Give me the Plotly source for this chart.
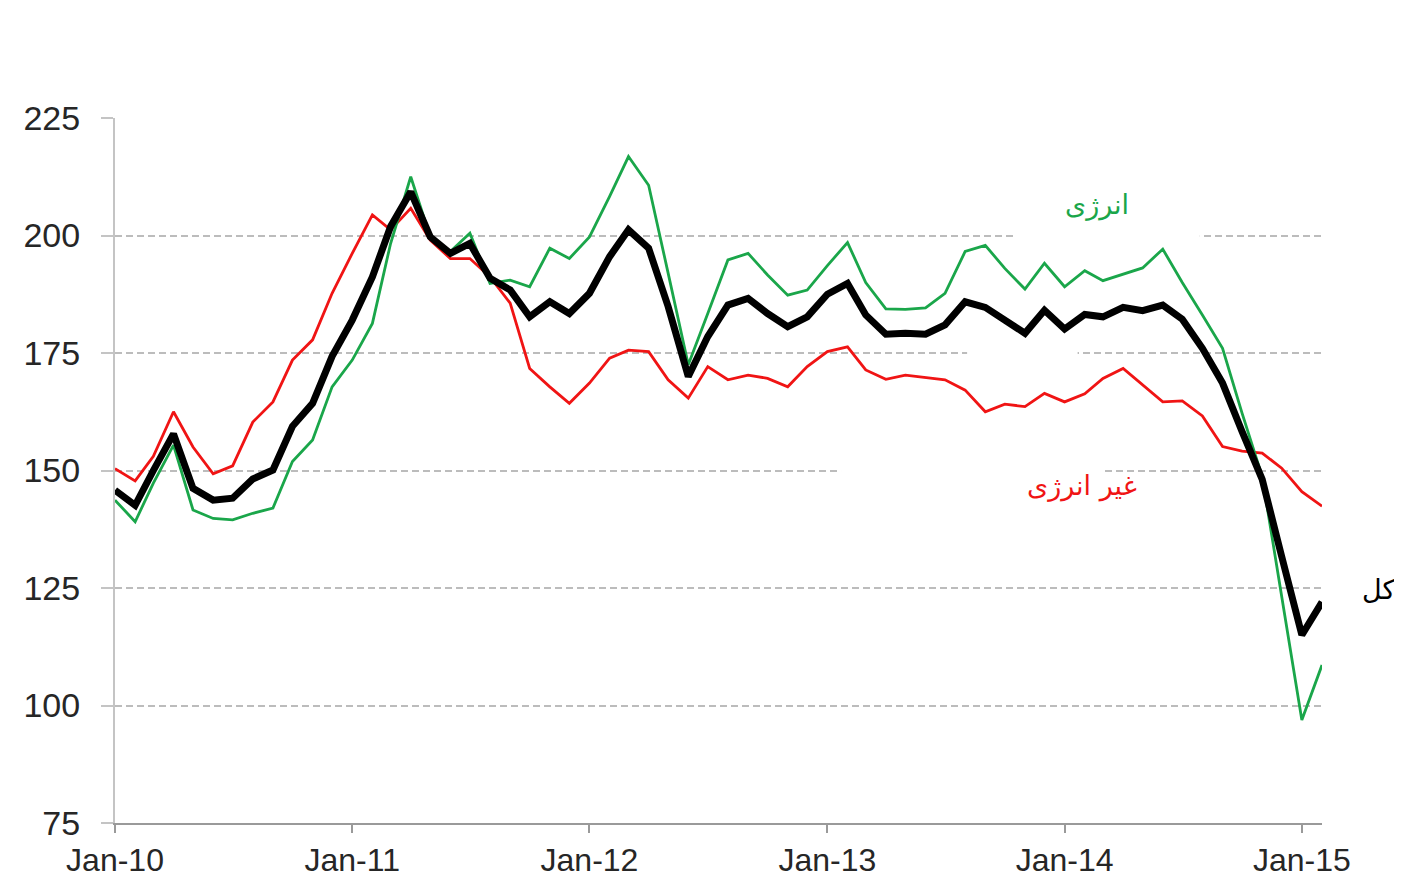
"""
Energy vs non-energy commodity index, Jan-10 to Feb-15.
"""

import pandas as pd
import plotly.graph_objects as go

months = pd.date_range("2010-01-01", periods=62, freq="MS")

# ── series (monthly) ──
total = [
    145.8, 142.6, 150.0, 157.8, 146.2, 143.7, 144.1, 148.2, 150.1, 159.4, 164.3, 174.3,
    182.0, 191.2, 201.9, 209.3, 199.7, 196.2, 198.3, 190.9, 188.4, 182.7, 185.9, 183.4,
    187.7, 195.5, 201.2, 197.3, 184.9, 170.0, 178.5, 185.2, 186.6, 183.4, 180.6, 182.7,
    187.5, 189.8, 183.1, 179.0, 179.2, 179.0, 181.0, 185.9, 184.7, 182.0, 179.2, 184.1,
    180.1, 183.2, 182.7, 184.7, 184.0, 185.2, 182.2, 176.0, 168.6, 158.3, 148.1, 131.7,
    115.0, 122.0,
]
energy = [
    143.7, 139.1, 147.3, 155.4, 141.6, 139.8, 139.5, 140.9, 142.0, 151.9, 156.5, 167.8,
    173.5, 181.3, 198.3, 212.5, 199.7, 196.6, 200.5, 189.8, 190.5, 189.1, 197.3, 195.1,
    199.7, 208.3, 216.8, 210.7, 192.0, 172.5, 183.4, 194.8, 196.2, 191.6, 187.3, 188.4,
    193.6, 198.5, 190.0, 184.4, 184.3, 184.6, 187.7, 196.6, 197.9, 193.0, 188.6, 194.1,
    189.1, 192.5, 190.4, 191.7, 193.1, 197.1, 190.0, 183.1, 176.0, 162.2, 148.7, 123.2,
    96.9, 108.6,
]
non_energy = [
    150.4, 147.8, 153.0, 162.5, 155.0, 149.3, 151.0, 160.3, 164.6, 173.5, 177.8, 187.7,
    196.2, 204.4, 201.2, 205.8, 199.0, 195.1, 195.1, 191.2, 185.6, 171.7, 167.8, 164.3,
    168.6, 173.9, 175.6, 175.3, 169.3, 165.4, 172.1, 169.3, 170.3, 169.6, 167.8, 172.1,
    175.3, 176.3, 171.4, 169.4, 170.3, 169.8, 169.3, 167.1, 162.5, 164.1, 163.6, 166.4,
    164.6, 166.3, 169.6, 171.7, 168.2, 164.6, 164.8, 161.6, 155.1, 154.1, 153.7, 150.5,
    145.5, 142.4,
]

y_ticks = [75, 100, 125, 150, 175, 200, 225]

GREEN = "#1aa64a"
RED = "#f01414"
BLACK = "#000000"

fig = go.Figure()
fig.add_trace(go.Scatter(x=months, y=non_energy, mode="lines",
                         line=dict(color=RED, width=2.8), name="غیر انرژی"))
fig.add_trace(go.Scatter(x=months, y=energy, mode="lines",
                         line=dict(color=GREEN, width=2.8), name="انرژی"))
fig.add_trace(go.Scatter(x=months, y=total, mode="lines",
                         line=dict(color=BLACK, width=7), name="کل"))

# label boxes in the original cut the gridlines
for x0, x1, yc in [("2013-10-15", "2014-07-28", 200),
                   ("2013-08-04", "2014-01-21", 175),
                   ("2013-01-22", "2014-03-04", 150)]:
    fig.add_shape(type="rect", xref="x", yref="y", x0=x0, x1=x1, y0=yc - 1.5, y1=yc + 1.5,
                  fillcolor="white", line=dict(width=0), layer="between")

label_font = "DejaVu Sans"
fig.add_annotation(x="2014-02-20", y=206.5, text="انرژی", showarrow=False,
                   font=dict(family=label_font, size=27, color=GREEN))
fig.add_annotation(x="2014-01-28", y=146.6, text="غیر انرژی", showarrow=False,
                   font=dict(family=label_font, size=27, color=RED))
fig.add_annotation(xref="paper", x=1.062, y=124.6, text="کل", showarrow=False,
                   font=dict(family=label_font, size=27, color=BLACK))

tick_color = "#262626"
fig.update_xaxes(
    range=[months[0], months[-1]],
    tickmode="linear", tick0="2010-01-01", dtick="M12", tickformat="%b-%y",
    showgrid=False, showline=True, linecolor="#9a9a9a", linewidth=2,
    ticks="outside", ticklen=8, tickwidth=2, tickcolor="#9a9a9a",
    tickfont=dict(family="Liberation Sans, Arial", size=32, color=tick_color),
    ticklabelstandoff=0, automargin=False,
)
fig.update_yaxes(
    range=[75, 225], tickvals=y_ticks,
    showgrid=True, gridcolor="#bcbcbc", gridwidth=1.6, griddash="7px,4px",
    showline=True, linecolor="#c4c4c4", linewidth=2, zeroline=False,
    ticks="outside", ticklen=12, tickwidth=2, tickcolor="#c4c4c4",
    tickfont=dict(family="Liberation Sans, Arial", size=34, color=tick_color),
    ticklabelstandoff=14, automargin=False,
)
# page has an 8px body margin, so the figure is shifted to match
fig.update_layout(
    width=1386, height=872,
    showlegend=False,
    plot_bgcolor="white", paper_bgcolor="white",
    margin=dict(l=107, r=72, t=110, b=57),
)
fig.write_html("out.html")
